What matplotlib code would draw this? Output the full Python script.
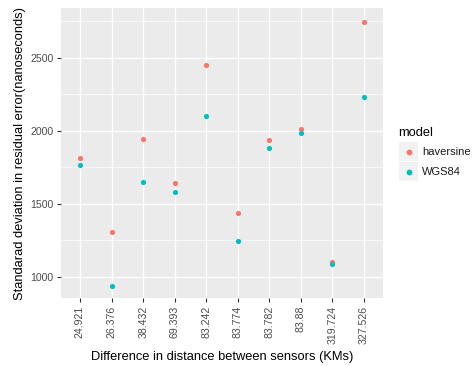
import matplotlib
matplotlib.use("Agg")
import matplotlib.pyplot as plt
from matplotlib.patches import Rectangle
from matplotlib.lines import Line2D

plt.rcParams['font.family'] = ['Liberation Sans', 'DejaVu Sans']

distances = ["24.921", "26.376", "38.432", "69.393", "83.242",
             "83.774", "83.782", "83.88", "319.724", "327.526"]
haversine = [1812, 1304, 1943, 1644, 2452, 1438, 1934, 2008, 1103, 2745]
wgs84 = [1768, 938, 1651, 1578, 2100, 1245, 1882, 1982, 1090, 2228]

series_names = ["haversine", "WGS84"]
series_colors = ["#F8766D", "#00BFC4"]

W, H = 472, 366
fig = plt.figure(figsize=(W / 100, H / 100), dpi=100)
ax = fig.add_axes([61 / W, 1 - 298 / H, 322 / W, 290 / H])

ax.set_facecolor("#EBEBEB")
x = list(range(1, len(distances) + 1))
for vals, col in zip([haversine, wgs84], series_colors):
    ax.scatter(x, vals, s=14, color=col, zorder=3, linewidths=0)

ax.set_xlim(0.4, len(distances) + 0.6)
ax.set_ylim(854, 2840)
ax.set_xticks(x)
ax.set_xticklabels(distances, rotation=90)
ax.set_yticks([1000, 1500, 2000, 2500])
ax.set_yticks([1250, 1750, 2250, 2750], minor=True)
ax.grid(True, which="major", color="white", linewidth=1.0)
ax.grid(True, which="minor", axis="y", color="white", linewidth=0.5)
ax.set_axisbelow(True)
for sp in ax.spines.values():
    sp.set_visible(False)
ax.tick_params(axis="both", which="major", colors="#333333", labelcolor="#4D4D4D",
               labelsize=7.6, length=3, width=0.8, pad=2.5)
ax.tick_params(axis="y", which="minor", length=0)

ax.set_xlabel("Difference in distance between sensors (KMs)", fontsize=9.3, labelpad=5)
ax.set_ylabel("Standarad deviation in residual error(nanoseconds)", fontsize=9.3, labelpad=3)

# legend drawn in pixel-based figure coordinates, ggplot style
def fx(px):
    return px / W

def fy(py):
    return 1 - py / H

fig.text(fx(398), fy(133), "model", fontsize=9.3, va="center", ha="left")
key_top = 142
key_size = 20
for i, (name, col) in enumerate(zip(series_names, series_colors)):
    top = key_top + i * key_size
    fig.patches.append(Rectangle((fx(399), fy(top + key_size - 1)), (key_size - 1) / W,
                                 (key_size - 1) / H, transform=fig.transFigure,
                                 facecolor="#F2F2F2", edgecolor="none"))
    fig.lines.append(Line2D([fx(409)], [fy(top + key_size / 2)], marker="o",
                            linestyle="", markersize=4.2, markerfacecolor=col,
                            markeredgewidth=0, transform=fig.transFigure))
    fig.text(fx(422), fy(top + key_size / 2), name, fontsize=8, va="center",
             ha="left", color="#1A1A1A")

fig.savefig("out.png", dpi=100)
